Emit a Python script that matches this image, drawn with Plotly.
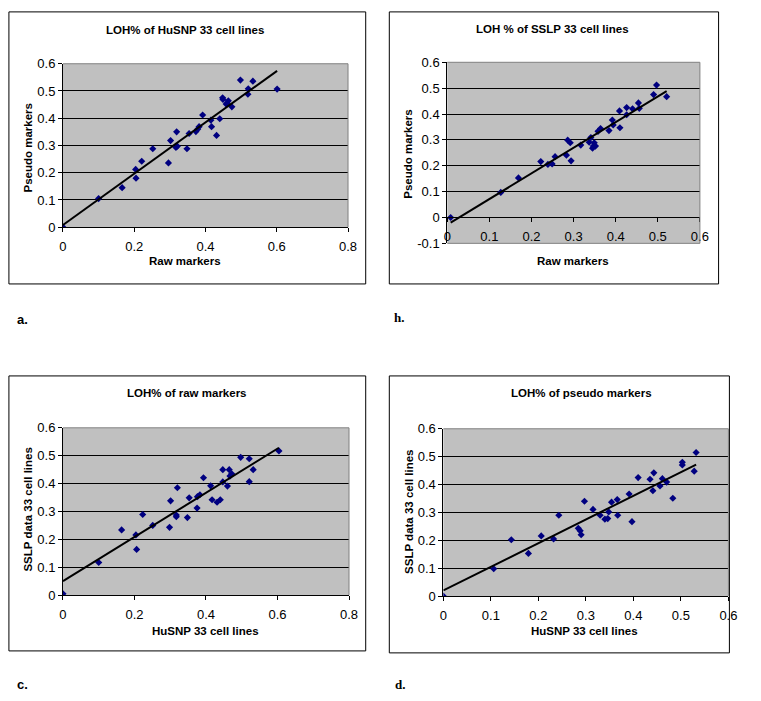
import numpy as np
import plotly.graph_objects as go

# ---------------- data ----------------
# a. LOH% of HuSNP 33 cell lines
a_raw = [0.000, 0.100, 0.166, 0.204, 0.205, 0.221, 0.252, 0.296, 0.302, 0.319, 0.317,
         0.321, 0.348, 0.354, 0.373, 0.378, 0.382, 0.392, 0.415, 0.417, 0.431, 0.440,
         0.448, 0.449, 0.458, 0.461, 0.464, 0.474, 0.498, 0.519, 0.520, 0.533, 0.601]
a_pseudo = [0.000, 0.105, 0.145, 0.212, 0.180, 0.242, 0.288, 0.236, 0.318, 0.350, 0.293,
            0.297, 0.288, 0.344, 0.351, 0.360, 0.369, 0.412, 0.393, 0.369, 0.337, 0.398,
            0.475, 0.469, 0.452, 0.455, 0.464, 0.442, 0.540, 0.488, 0.508, 0.536, 0.507]

# h. LOH % of SSLP 33 cell lines
b_raw = [0.008, 0.127, 0.169, 0.222, 0.239, 0.249, 0.256, 0.283, 0.286, 0.292, 0.294,
         0.317, 0.337, 0.341, 0.345, 0.347, 0.349, 0.352, 0.358, 0.364, 0.384, 0.392,
         0.394, 0.409, 0.410, 0.426, 0.426, 0.440, 0.454, 0.456, 0.490, 0.497, 0.521]
b_pseudo = [0.000, 0.097, 0.153, 0.216, 0.205, 0.207, 0.235, 0.241, 0.299, 0.289, 0.219,
            0.280, 0.291, 0.309, 0.268, 0.276, 0.289, 0.276, 0.333, 0.344, 0.336, 0.377,
            0.358, 0.412, 0.347, 0.425, 0.397, 0.420, 0.443, 0.422, 0.475, 0.512, 0.467]

# c. LOH% of raw markers
c_husnp = [0.000, 0.100, 0.164, 0.204, 0.206, 0.223, 0.251, 0.298, 0.301, 0.317, 0.317,
           0.320, 0.348, 0.353, 0.375, 0.376, 0.383, 0.393, 0.413, 0.417, 0.431, 0.440,
           0.447, 0.447, 0.460, 0.465, 0.467, 0.472, 0.497, 0.521, 0.521, 0.532, 0.604]
c_sslp = [0.005, 0.117, 0.234, 0.216, 0.164, 0.289, 0.250, 0.243, 0.338, 0.287, 0.281,
          0.385, 0.278, 0.349, 0.312, 0.353, 0.360, 0.421, 0.392, 0.342, 0.333, 0.342,
          0.450, 0.406, 0.391, 0.450, 0.427, 0.435, 0.494, 0.489, 0.407, 0.450, 0.517]

# d. LOH% of pseudo markers
d_husnp = [0.000, 0.106, 0.143, 0.179, 0.206, 0.232, 0.243, 0.284, 0.288, 0.290, 0.297,
           0.315, 0.330, 0.340, 0.346, 0.348, 0.354, 0.366, 0.367, 0.391, 0.397, 0.410,
           0.435, 0.441, 0.443, 0.456, 0.461, 0.470, 0.483, 0.503, 0.503, 0.528, 0.532]
d_sslp = [0.000, 0.098, 0.202, 0.153, 0.216, 0.205, 0.290, 0.243, 0.234, 0.220, 0.340,
          0.311, 0.290, 0.276, 0.278, 0.302, 0.337, 0.346, 0.290, 0.366, 0.267, 0.425,
          0.419, 0.378, 0.442, 0.395, 0.421, 0.409, 0.351, 0.480, 0.470, 0.448, 0.515]

titles = ["LOH% of HuSNP 33 cell lines", "LOH % of SSLP 33 cell lines",
          "LOH% of raw markers", "LOH% of pseudo markers"]
x_titles = ["Raw markers", "Raw markers", "HuSNP 33 cell lines", "HuSNP 33 cell lines"]
y_titles = ["Pseudo markers", "Pseudo markers", "SSLP data 33 cell lines", "SSLP data 33 cell lines"]
panel_letters = ["a.", "h.", "c.", "d."]

x_ticks_08 = [0, 0.2, 0.4, 0.6, 0.8]
x_ticks_06 = [0, 0.1, 0.2, 0.3, 0.4, 0.5, 0.6]
x_labels_08 = ["0", "0.2", "0.4", "0.6", "0.8"]
x_labels_06 = ["0", "0.1", "0.2", "0.3", "0.4", "0.5", "0.6"]
y_ticks_std = [0, 0.1, 0.2, 0.3, 0.4, 0.5, 0.6]
y_labels_std = ["0", "0.1", "0.2", "0.3", "0.4", "0.5", "0.6"]
y_ticks_neg = [-0.1, 0, 0.1, 0.2, 0.3, 0.4, 0.5, 0.6]
y_labels_neg = ["-0.1", "0", "0.1", "0.2", "0.3", "0.4", "0.5", "0.6"]

series = [(a_raw, a_pseudo), (b_raw, b_pseudo), (c_husnp, c_sslp), (d_husnp, d_sslp)]
x_ranges = [[0, 0.8], [0, 0.6], [0, 0.8], [0, 0.6]]
x_tick_sets = [(x_ticks_08, x_labels_08), (x_ticks_06, x_labels_06),
               (x_ticks_08, x_labels_08), (x_ticks_06, x_labels_06)]
y_ranges = [[0, 0.6], [-0.1, 0.6], [0, 0.6], [0, 0.6]]
y_tick_sets = [(y_ticks_std, y_labels_std), (y_ticks_neg, y_labels_neg),
               (y_ticks_std, y_labels_std), (y_ticks_std, y_labels_std)]

# ---------------- layout geometry (pixels) ----------------
W, H = 761, 701
def px(x): return x / W
def py(y): return 1 - y / H

plot_boxes = [(60, 350, 58, 225), (451, 708, 56.5, 241.5),
              (60, 351, 430, 601), (447, 737, 431, 602)]
chart_boxes = [(5, 368, 5, 283), (392, 727, 5, 283), (5, 368, 377, 658), (392, 738, 377, 660)]
title_pos = [(184, 23), (558, 22), (186, 394), (588, 394)]
xlab_pos = [(184, 260), (579, 260), (205, 638), (591, 638)]
ylab_pos = [(24, 144), (411, 150), (24, 514), (412, 516)]
letter_pos = [(11, 319), (395, 317), (11, 692), (396, 692)]
letter_fonts = ["Liberation Sans", "Liberation Serif", "Liberation Sans", "Liberation Serif"]

FONT = "Liberation Sans"
NAVY = "#000080"

fig = go.Figure()
shapes = []
annotations = []

for i, (xs, ys) in enumerate(series):
    n = "" if i == 0 else str(i + 1)
    xa, ya = "x" + n, "y" + n
    xs_arr = np.array(xs)
    ys_arr = np.array(ys)
    fig.add_trace(go.Scatter(x=xs, y=ys, mode="markers", xaxis=xa, yaxis=ya,
                             marker=dict(symbol="diamond", size=5.5, color=NAVY,
                                         line=dict(width=0)),
                             showlegend=False, hoverinfo="x+y"))
    k, b0 = np.polyfit(xs_arr, ys_arr, 1)
    tx = np.array([xs_arr.min(), xs_arr.max()])
    fig.add_trace(go.Scatter(x=tx, y=k * tx + b0, mode="lines", xaxis=xa, yaxis=ya,
                             line=dict(color="black", width=2),
                             showlegend=False, hoverinfo="skip"))

    x0, x1, y0, y1 = plot_boxes[i]
    xv, xt = x_tick_sets[i]
    yv, yt = y_tick_sets[i]
    xaxis = dict(domain=[px(x0), px(x1)], range=x_ranges[i],
                 tickmode="array", tickvals=xv, ticktext=xt,
                 showgrid=False, zeroline=False, showline=True, linecolor="black",
                 linewidth=1, ticks="outside", ticklen=4, tickcolor="black",
                 ticklabelstandoff=3,
                 tickfont=dict(family=FONT, size=13, color="black"), fixedrange=True)
    if i == 1:
        xaxis.update(anchor="free", position=py(215))
    else:
        xaxis.update(anchor=ya)
    yaxis = dict(domain=[py(y1), py(y0)], range=y_ranges[i],
                 tickmode="array", tickvals=yv, ticktext=yt,
                 showgrid=True, gridcolor="black", gridwidth=1, zeroline=False,
                 showline=True, linecolor="black", linewidth=1, ticks="outside",
                 ticklen=4, tickcolor="black", anchor=xa,
                 tickfont=dict(family=FONT, size=13, color="black"), fixedrange=True)
    fig.layout["xaxis" + n] = xaxis
    fig.layout["yaxis" + n] = yaxis

    # gray plot-area border (top, right, and bottom for panel h)
    shapes.append(dict(type="line", xref="paper", yref="paper",
                       x0=px(x0), x1=px(x1), y0=py(y0), y1=py(y0),
                       line=dict(color="#808080", width=1), layer="above"))
    shapes.append(dict(type="line", xref="paper", yref="paper",
                       x0=px(x1), x1=px(x1), y0=py(y0), y1=py(y1),
                       line=dict(color="#808080", width=1), layer="above"))
    if i == 1:
        shapes.append(dict(type="line", xref="paper", yref="paper",
                           x0=px(x0), x1=px(x1), y0=py(y1), y1=py(y1),
                           line=dict(color="#808080", width=1), layer="above"))

    # outer chart border
    cx0, cx1, cy0, cy1 = chart_boxes[i]
    shapes.append(dict(type="rect", xref="paper", yref="paper",
                       x0=px(cx0), x1=px(cx1), y0=py(cy1), y1=py(cy0),
                       line=dict(color="black", width=1), fillcolor="rgba(0,0,0,0)",
                       layer="below"))

    tx_, ty_ = title_pos[i]
    annotations.append(dict(text="<b>%s</b>" % titles[i], x=px(tx_), y=py(ty_),
                            xref="paper", yref="paper", showarrow=False,
                            xanchor="center", yanchor="middle",
                            font=dict(family=FONT, size=11.5, color="black")))
    lx, ly = xlab_pos[i]
    annotations.append(dict(text="<b>%s</b>" % x_titles[i], x=px(lx), y=py(ly),
                            xref="paper", yref="paper", showarrow=False,
                            xanchor="center", yanchor="middle",
                            font=dict(family=FONT, size=11.5, color="black")))
    vx, vy = ylab_pos[i]
    annotations.append(dict(text="<b>%s</b>" % y_titles[i], x=px(vx), y=py(vy),
                            xref="paper", yref="paper", showarrow=False, textangle=-90,
                            xanchor="center", yanchor="middle",
                            font=dict(family=FONT, size=11.5, color="black")))
    qx, qy = letter_pos[i]
    annotations.append(dict(text="<b>%s</b>" % panel_letters[i], x=px(qx), y=py(qy),
                            xref="paper", yref="paper", showarrow=False,
                            xanchor="left", yanchor="middle",
                            font=dict(family=letter_fonts[i], size=13, color="black")))

fig.update_layout(width=W, height=H, margin=dict(l=0, r=0, t=0, b=0),
                  paper_bgcolor="white", plot_bgcolor="#C0C0C0",
                  shapes=shapes, annotations=annotations, showlegend=False)

fig.write_html("out.html", config={"displayModeBar": False},
               post_script="document.body.style.margin='0px';document.body.style.overflow='hidden';")
